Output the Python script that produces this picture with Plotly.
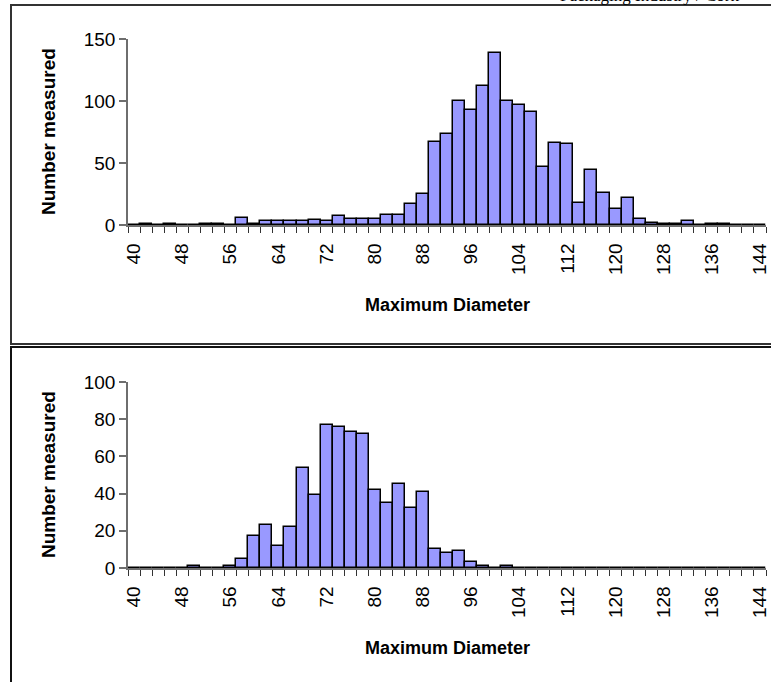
import plotly.graph_objects as go

W, H = 771, 682

# bin labels (mm), 2 mm wide bins
diameters = list(range(40, 146, 2))

counts_top = [
    0, 1, 0, 1, 0, 0, 1, 1, 0, 6,
    1, 3, 3, 3, 3, 4, 3, 7, 5, 5,
    5, 8, 8, 17, 25, 67, 73, 100, 93, 112,
    139, 100, 97, 91, 47, 66, 65, 18, 44, 26,
    13, 22, 5, 2, 1, 1, 3, 0, 1, 1,
    0, 0, 0,
]

counts_bottom = [
    0, 0, 0, 0, 0, 1, 0, 0, 1, 5,
    17, 23, 12, 22, 54, 39, 77, 76, 73, 72,
    42, 35, 45, 32, 41, 10, 8, 9, 3, 1,
    0, 1, 0, 0, 0, 0, 0, 0, 0, 0,
    0, 0, 0, 0, 0, 0, 0, 0, 0, 0,
    0, 0, 0,
]

x_labels = list(range(40, 146, 8))
y_max = [150, 100]
y_step = [50, 20]
x_title = "Maximum Diameter"
y_title = "Number measured"
header = "Packaging Industry / Cork"

FONT = "Arial, Liberation Sans, sans-serif"
AXIS_GREY = "#6e6e6e"


def px_x(v):
    return v / W


def px_y(v):
    return 1 - v / H


fig = go.Figure()

panels = [
    # (counts, plot top px, plot bottom px)
    (counts_top, 39, 225),
    (counts_bottom, 382, 568),
]

for i, (counts, top, bottom) in enumerate(panels):
    n = "" if i == 0 else str(i + 1)
    fig.add_trace(
        go.Bar(
            x=diameters,
            y=counts,
            width=2,
            marker=dict(color="#9999FF", line=dict(color="black", width=1.5)),
            xaxis="x" + n,
            yaxis="y" + n,
            showlegend=False,
        )
    )

    fig.layout["xaxis" + n] = dict(
        domain=[px_x(128), px_x(766)],
        anchor="y" + n,
        range=[39, 145],
        automargin=False,
        tickmode="array",
        tickvals=x_labels,
        ticktext=[str(v) for v in x_labels],
        tickangle=-90,
        ticks="",
        ticklabelstandoff=9,
        tickfont=dict(family=FONT, size=19, color="black"),
        showline=True,
        linecolor=AXIS_GREY,
        linewidth=1.5,
        showgrid=False,
        zeroline=False,
        minor=dict(
            tickmode="array",
            tickvals=[d - 1 for d in diameters] + [diameters[-1] + 1],
            ticks="outside",
            ticklen=6,
            tickcolor="#333333",
            tickwidth=1,
            showgrid=False,
        ),
    )
    fig.layout["yaxis" + n] = dict(
        domain=[px_y(bottom), px_y(top)],
        anchor="x" + n,
        range=[0, y_max[i]],
        automargin=False,
        tickmode="linear",
        tick0=0,
        dtick=y_step[i],
        ticks="outside",
        ticklen=7,
        tickcolor=AXIS_GREY,
        tickwidth=1.5,
        tickfont=dict(family=FONT, size=19, color="black"),
        showline=True,
        linecolor=AXIS_GREY,
        linewidth=1.5,
        showgrid=False,
        zeroline=False,
    )

    # axis titles
    fig.add_annotation(
        text=f"<b>{x_title}</b>",
        xref="paper", yref="paper",
        x=px_x(447), y=px_y(bottom + 80),
        xanchor="center", yanchor="middle",
        showarrow=False,
        font=dict(family=FONT, size=18, color="black"),
    )
    fig.add_annotation(
        text=f"<b>{y_title}</b>",
        xref="paper", yref="paper",
        x=px_x(48), y=px_y((top + bottom) / 2),
        xanchor="center", yanchor="middle",
        textangle=-90,
        showarrow=False,
        font=dict(family=FONT, size=19, color="black"),
    )

# panel frames
fig.add_shape(type="rect", xref="paper", yref="paper",
              x0=px_x(11), x1=px_x(800), y0=px_y(5), y1=px_y(344),
              line=dict(color="#333333", width=2))
fig.add_shape(type="rect", xref="paper", yref="paper",
              x0=px_x(11), x1=px_x(800), y0=px_y(347), y1=px_y(720),
              line=dict(color="#111111", width=2))

fig.update_layout(
    width=W,
    height=H,
    margin=dict(l=0, r=0, t=0, b=0),
    paper_bgcolor="white",
    plot_bgcolor="white",
    bargap=0,
    # running page header, mostly cut off by the top edge
    title=dict(
        text=header,
        xref="container", yref="container",
        x=px_x(560), y=1,
        xanchor="left", yanchor="top",
        pad=dict(t=-11),
        automargin=False,
        font=dict(family="Liberation Serif, Times New Roman, serif", size=17, color="black"),
    ),
)

# drop the default 8px page margin so the figure sits at the window's corner
fig.write_html(
    "out.html",
    config={"displayModeBar": False},
    post_script="document.body.style.margin = '0';",
)
